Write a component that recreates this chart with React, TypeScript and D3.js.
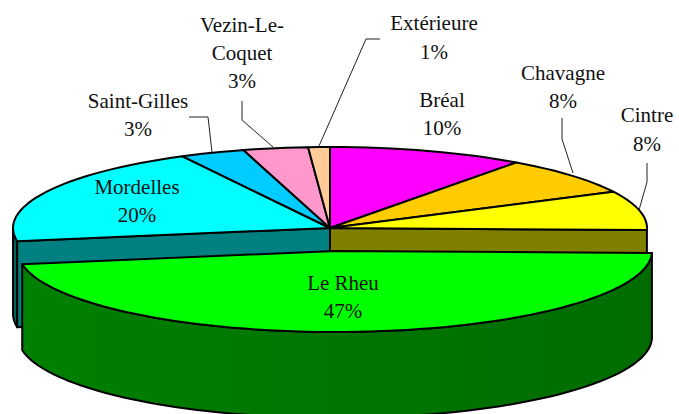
import React from "react";
import * as d3 from "d3";

const names = ["Bréal", "Chavagne", "Cintre", "Le Rheu", "Mordelles", "Saint-Gilles", "Vezin-Le-Coquet", "Extérieure"];
const sliceValues = [10, 7.6, 7.8, 47, 19.9, 3.3, 3.3, 1.1];
const topColors = ["#ff00ff", "#ffcc00", "#ffff00", "#00ff00", "#00ffff", "#00ccff", "#ff99cc", "#ffcc99"];

const W = 679, H = 414;
const CX = 330, CY = 228, RX = 317, RY = 81, DEPTH = 86;
const EXPLODE_X = 5, EXPLODE_Y = 23;
const EXPLODED = "Le Rheu";

const labelLayout: { name: string; x: number; lines: [string, number][] }[] = [
  { name: "Bréal", x: 442, lines: [["Bréal", 107], ["10%", 135]] },
  { name: "Chavagne", x: 563, lines: [["Chavagne", 80], ["8%", 108]] },
  { name: "Cintre", x: 647, lines: [["Cintre", 122], ["8%", 151]] },
  { name: "Le Rheu", x: 343, lines: [["Le Rheu", 290], ["47%", 318]] },
  { name: "Mordelles", x: 137, lines: [["Mordelles", 194], ["20%", 222]] },
  { name: "Saint-Gilles", x: 138, lines: [["Saint-Gilles", 108], ["3%", 136]] },
  { name: "Vezin-Le-Coquet", x: 242, lines: [["Vezin-Le-", 32], ["Coquet", 60], ["3%", 88]] },
  { name: "Extérieure", x: 434, lines: [["Extérieure", 30], ["1%", 59]] },
];

const leaders: [number, number][][] = [
  [[189, 117], [208, 117], [212, 152]],
  [[242, 101], [242, 120], [273, 147]],
  [[380, 39], [366, 39], [319, 146]],
  [[562, 118], [562, 139], [573, 173]],
  [[647, 163], [647, 182], [639, 210]],
];

const pie = d3.pie<number>().sort(null).startAngle(0).endAngle(2 * Math.PI);
const arcs = pie(sliceValues);
const line = d3.line<[number, number]>();
const leaderLine = d3.line<[number, number]>();

function pt(a: number, cx: number, cy: number): [number, number] {
  return [cx + RX * Math.sin(a), cy - RY * Math.cos(a)];
}
function sample(a0: number, a1: number, cx: number, cy: number): [number, number][] {
  const n = Math.max(2, Math.ceil(Math.abs(a1 - a0) / 0.04));
  return d3.range(n + 1).map((i) => pt(a0 + ((a1 - a0) * i) / n, cx, cy));
}
function sliceTop(a0: number, a1: number, cx: number, cy: number) {
  return line([[cx, cy], ...sample(a0, a1, cx, cy)])! + "Z";
}
function outerWall(a0: number, a1: number, cx: number, cy: number) {
  const topEdge = sample(a0, a1, cx, cy);
  const bottomEdge = topEdge.map(([x, y]) => [x, y + DEPTH] as [number, number]).reverse();
  return line([...topEdge, ...bottomEdge])! + "Z";
}
function cutWall(a: number) {
  const p = pt(a, CX, CY);
  const q: [number, number][] = [[CX, CY], p, [p[0], p[1] + DEPTH], [CX, CY + DEPTH]];
  return line(q)! + "Z";
}

const S = { stroke: "#000", strokeWidth: 2, strokeLinejoin: "round" as const };

export default function App() {
  const iEx = names.indexOf(EXPLODED);
  const ex = arcs[iEx];
  const prev = arcs[iEx + 1];
  const before = arcs[iEx - 1];
  const exCx = CX + EXPLODE_X;
  const exCy = CY + EXPLODE_Y;
  return (
    <svg width={W} height={H} viewBox={`0 0 ${W} ${H}`} style={{ position: "absolute", left: 0, top: 0, background: "#fff" }}>
      <defs>
        <linearGradient id="wall" x1="0" x2="1" y1="0" y2="0">
          <stop offset="0" stopColor="#008000" />
          <stop offset="1" stopColor="#006c00" />
        </linearGradient>
      </defs>
      <path d={outerWall(prev.startAngle, 1.5 * Math.PI, CX, CY)} fill="#005f5f" {...S} />
      <path d={cutWall(prev.startAngle)} fill="#008080" {...S} />
      <path d={cutWall(before.endAngle)} fill="#808000" {...S} />
      {arcs.map((a, i) =>
        i === iEx ? null : (
          <path key={names[i]} d={sliceTop(a.startAngle, a.endAngle, CX, CY)} fill={topColors[i]} {...S} />
        )
      )}
      <path d={outerWall(ex.startAngle, ex.endAngle, exCx, exCy)} fill="url(#wall)" {...S} />
      <path d={sliceTop(ex.startAngle, ex.endAngle, exCx, exCy)} fill={topColors[iEx]} {...S} />
      {leaders.map((l, i) => (
        <path key={i} d={leaderLine(l)!} fill="none" stroke="#222" strokeWidth={1} />
      ))}
      <g fontFamily="'Liberation Serif', serif" fontSize={21} fill="#111" textAnchor="middle">
        {labelLayout.map((l) =>
          l.lines.map(([t, y]) => (
            <text key={t + y} x={l.x} y={y}>
              {t}
            </text>
          ))
        )}
      </g>
    </svg>
  );
}
